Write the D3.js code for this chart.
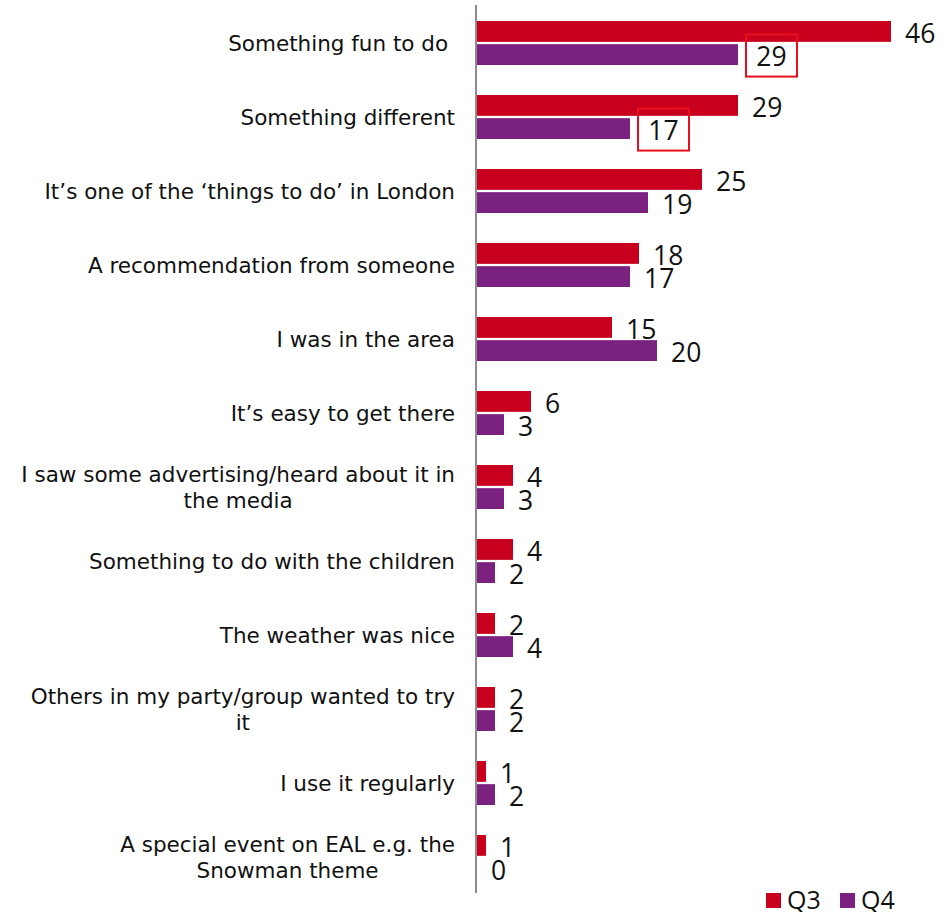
<!DOCTYPE html>
<html>
<head>
<meta charset="utf-8">
<script src="https://cdn.jsdelivr.net/npm/d3@7"></script>
<style>
  body { margin: 0; background: #fff; }
  svg { display: block; }
</style>
</head>
<body>
<svg></svg>
<script>
// categories (label lines) and the two series
let categories = [
  ["Something fun to do "],
  ["Something different"],
  ["It\u2019s one of the \u2018things to do\u2019 in London"],
  ["A recommendation from someone"],
  ["I was in the area"],
  ["It\u2019s easy to get there"],
  ["I saw some advertising/heard about it in", "the media"],
  ["Something to do with the children"],
  ["The weather was nice"],
  ["Others in my party/group wanted to try", "it"],
  ["I use it regularly"],
  ["A special event on EAL e.g. the", "Snowman theme"]
];
let q3 = [46, 29, 25, 18, 15, 6, 4, 4, 2, 2, 1, 1];
let q4 = [29, 17, 19, 17, 20, 3, 3, 2, 4, 2, 2, 0];
let seriesNames = ["Q3", "Q4"];
let highlighted = [[0, "Q4"], [1, "Q4"]]; // labels drawn inside red boxes

let colors = {Q3: "#c8001e", Q4: "#7b2280"};

let width = 949;
let height = 912;
let axisX = 477;
let valFont = 26.5;

let svg = d3.select("svg").attr("width", width).attr("height", height);

let keys = categories.map((c, i) => i);

let yScale = d3.scaleBand()
               .domain(keys)
               .range([6, 894]);

let ySub = d3.scaleBand()
             .domain(seriesNames)
             .range([15, 59])
             .paddingInner(0.1);

let xScale = d3.scaleLinear()
               .domain([0, 46])
               .range([axisX, 891]);

let rows = [];
keys.forEach(i => {
  rows.push({i: i, s: "Q3", v: q3[i]});
  rows.push({i: i, s: "Q4", v: q4[i]});
});

let isBoxed = d => highlighted.some(h => h[0] == d.i && h[1] == d.s);
let barMid = d => yScale(d.i) + ySub(d.s) + ySub.bandwidth() / 2;

// bars
svg.selectAll("rect.bar")
   .data(rows)
   .enter()
   .append("rect")
   .attr("class", "bar")
   .attr("x", axisX)
   .attr("y", d => yScale(d.i) + ySub(d.s))
   .attr("width", d => xScale(d.v) - axisX)
   .attr("height", ySub.bandwidth())
   .attr("fill", d => colors[d.s]);

// highlight boxes
svg.selectAll("rect.box")
   .data(rows.filter(isBoxed))
   .enter()
   .append("rect")
   .attr("class", "box")
   .attr("x", d => xScale(d.v) + 8)
   .attr("y", d => barMid(d) + 1 - 21)
   .attr("width", 51)
   .attr("height", 42)
   .attr("fill", "none")
   .attr("stroke", "#e8101e")
   .attr("stroke-width", 2);

// value labels (baseline = middle + half digit height)
svg.selectAll("text.val")
   .data(rows)
   .enter()
   .append("text")
   .attr("class", "val")
   .attr("x", d => isBoxed(d) ? xScale(d.v) + 33.5 : xScale(d.v) + 14)
   .attr("text-anchor", d => isBoxed(d) ? "middle" : "start")
   .attr("y", d => barMid(d) + 2 + valFont * 0.357)
   .attr("font-family", "'Open Sans', 'Noto Sans', sans-serif")
   .attr("font-size", valFont)
   .attr("fill", "#111")
   .text(d => d.v);

// category labels
let cat = svg.selectAll("text.cat")
   .data(keys)
   .enter()
   .append("text")
   .attr("class", "cat")
   .attr("font-family", "'DejaVu Sans', Verdana, sans-serif")
   .attr("font-size", 21.5)
   .attr("fill", "#111")
   .style("white-space", "pre");

cat.each(function(i) {
  let lines = categories[i];
  let cy = yScale(i) + yScale.bandwidth() / 2;
  let lh = 26;
  let top = cy - (lines.length - 1) * lh / 2;
  let firstWidth = 0;
  lines.forEach((ln, k) => {
    let t = d3.select(this).append("tspan")
              .attr("y", top + k * lh)
              .attr("dominant-baseline", "central")
              .text(ln);
    if (k == 0) {
      t.attr("x", 455).attr("text-anchor", "end");
      firstWidth = t.node().getComputedTextLength();
    } else {
      t.attr("x", 455 - firstWidth / 2).attr("text-anchor", "middle");
    }
  });
});

// axis line
svg.append("line")
   .attr("x1", axisX - 1)
   .attr("x2", axisX - 1)
   .attr("y1", 5)
   .attr("y2", 893)
   .attr("stroke", "#8c8c8c")
   .attr("stroke-width", 2);

// legend
let legend = svg.append("g").attr("transform", "translate(766,900)");
seriesNames.forEach((s, k) => {
  let g = legend.append("g").attr("transform", "translate(" + (k * 74) + ",0)");
  g.append("rect")
   .attr("x", 0)
   .attr("y", -7)
   .attr("width", 15)
   .attr("height", 15)
   .attr("fill", colors[s]);
  g.append("text")
   .attr("x", 21)
   .attr("y", 8.5)
   .attr("font-family", "'Open Sans', 'Noto Sans', sans-serif")
   .attr("font-size", 25)
   .attr("fill", "#111")
   .text(s);
});
</script>
</body>
</html>
